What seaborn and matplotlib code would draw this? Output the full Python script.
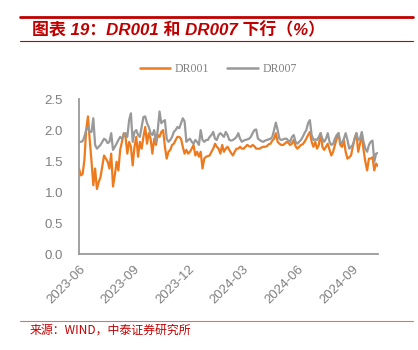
import matplotlib
matplotlib.use("Agg")
import matplotlib.pyplot as plt
import matplotlib.dates as mdates
import pandas as pd
import seaborn as sns

# Observation dates (every third calendar day)
dates = pd.date_range("2023-06-01", periods=168, freq="3D")

# DR001 overnight repo rate (%)
dr001 = [
    1.38, 1.27, 1.29, 1.51, 2.00, 2.22, 1.84, 1.49, 1.11, 1.38,
    1.05, 1.16, 1.24, 1.41, 1.59, 1.54, 1.49, 1.38, 1.62, 1.09,
    1.27, 1.49, 1.35, 1.68, 1.81, 1.95, 1.89, 1.62, 1.81, 1.73,
    1.43, 1.73, 1.89, 1.57, 1.81, 1.70, 1.89, 2.05, 1.78, 1.95,
    1.86, 1.62, 1.86, 1.76, 1.92, 1.89, 1.97, 2.00, 1.73, 1.54,
    1.65, 1.68, 1.76, 1.78, 1.84, 1.89, 1.89, 1.86, 1.73, 1.62,
    1.68, 1.62, 1.65, 1.70, 1.76, 1.59, 1.65, 1.57, 1.65, 1.38,
    1.54, 1.57, 1.58, 1.59, 1.65, 1.70, 1.78, 1.73, 1.70, 1.62,
    1.76, 1.65, 1.70, 1.73, 1.68, 1.63, 1.59, 1.65, 1.70, 1.70,
    1.73, 1.70, 1.70, 1.73, 1.76, 1.74, 1.73, 1.76, 1.74, 1.70,
    1.70, 1.70, 1.72, 1.73, 1.73, 1.74, 1.77, 1.78, 1.83, 1.86,
    1.95, 1.81, 1.78, 1.76, 1.76, 1.78, 1.81, 1.79, 1.76, 1.78,
    1.84, 1.74, 1.70, 1.73, 1.76, 1.77, 1.81, 1.86, 1.92, 1.97,
    1.81, 1.73, 1.81, 1.70, 1.76, 1.95, 1.73, 1.68, 1.73, 1.78,
    1.68, 1.59, 1.65, 1.76, 1.86, 1.95, 1.76, 1.73, 1.84, 1.65,
    1.54, 1.56, 1.59, 1.73, 1.86, 1.95, 1.65, 1.78, 1.92, 1.68,
    1.49, 1.35, 1.54, 1.54, 1.56, 1.35, 1.46, 1.42,
]

# DR007 seven-day repo rate (%)
dr007 = [
    1.81, 1.81, 1.82, 1.89, 2.00, 2.05, 1.97, 1.97, 2.19, 1.76,
    1.70, 1.73, 1.76, 1.81, 1.86, 1.84, 1.79, 1.81, 1.95, 1.68,
    1.73, 1.78, 1.84, 1.89, 1.86, 1.92, 1.95, 1.89, 2.16, 2.27,
    1.81, 1.97, 2.00, 1.92, 1.89, 2.05, 2.21, 2.22, 2.11, 2.05,
    1.95, 1.92, 2.00, 1.81, 2.00, 2.30, 2.11, 2.14, 2.16, 1.86,
    1.81, 1.84, 1.89, 1.97, 2.00, 2.05, 2.03, 2.11, 2.19, 2.14,
    1.81, 1.84, 1.86, 1.81, 1.78, 1.84, 1.81, 1.76, 2.00, 1.84,
    1.81, 1.84, 1.84, 1.89, 1.92, 1.97, 1.86, 1.84, 1.92, 1.95,
    1.92, 1.89, 1.97, 1.92, 1.84, 1.83, 1.84, 1.86, 1.89, 1.95,
    1.86, 1.81, 1.83, 1.84, 1.85, 1.86, 1.89, 1.95, 2.00, 2.01,
    1.86, 1.84, 1.82, 1.81, 1.83, 1.84, 1.85, 1.86, 1.89, 2.00,
    2.12, 2.00, 1.86, 1.84, 1.85, 1.86, 1.86, 1.83, 1.81, 1.89,
    1.92, 1.81, 1.78, 1.81, 1.84, 1.89, 1.95, 2.00, 2.11, 2.16,
    1.92, 1.84, 1.85, 1.84, 1.89, 1.95, 1.86, 1.81, 1.86, 1.95,
    1.81, 1.76, 1.78, 1.86, 1.92, 1.95, 1.81, 1.79, 1.86, 1.95,
    1.84, 1.70, 1.73, 1.76, 1.86, 1.95, 1.84, 1.86, 1.97, 1.81,
    1.70, 1.65, 1.76, 1.81, 1.83, 1.49, 1.62, 1.63,
]

x_ticks = ["2023-06-01", "2023-09-01", "2023-12-01",
           "2024-03-01", "2024-06-01", "2024-09-01"]

df = pd.DataFrame({"date": dates, "DR001": dr001, "DR007": dr007})
long = df.melt(id_vars="date", var_name="series", value_name="rate")

sns.set_style("white")
plt.rcParams["font.family"] = ["Liberation Sans", "Noto Sans CJK SC", "DejaVu Sans"]

red = "#C00000"
axis_grey = "#9A9A9A"
label_grey = "#7F7F7F"
orange = "#EE7A1E"
grey_line = "#999999"

fig = plt.figure(figsize=(4.18, 3.5), dpi=100)
ax = fig.add_axes([0.189, 0.274, 0.715, 0.443])

sns.lineplot(data=long, x="date", y="rate", hue="series",
             palette={"DR001": orange, "DR007": grey_line},
             linewidth=1.6, ax=ax, legend=False)

ax.set_xlim(dates[0], dates[-1])
ax.set_ylim(0, 2.5)
ax.set_yticks([0, 0.5, 1.0, 1.5, 2.0, 2.5])
ax.yaxis.set_major_formatter(matplotlib.ticker.FormatStrFormatter("%.1f"))
ax.set_xticks(pd.to_datetime(x_ticks))
ax.xaxis.set_major_formatter(mdates.DateFormatter("%Y-%m"))
for lab in ax.get_xticklabels():
    lab.set_rotation(45)
    lab.set_ha("right")
    lab.set_rotation_mode("anchor")

ax.set_xlabel("")
ax.set_ylabel("")
for side in ("top", "right"):
    ax.spines[side].set_visible(False)
for side in ("left", "bottom"):
    ax.spines[side].set_color(axis_grey)
    ax.spines[side].set_linewidth(1.3)
ax.tick_params(axis="both", which="major", direction="out",
               width=1.0, color=axis_grey, labelcolor=label_grey,
               labelsize=9.5)
ax.tick_params(axis="x", length=3.5, pad=3)
ax.tick_params(axis="y", length=2.5, pad=9)

# Legend drawn above the plot
leg_handles = [
    plt.Line2D([0], [0], color=orange, lw=1.8),
    plt.Line2D([0], [0], color=grey_line, lw=1.8),
]
fig.legend(leg_handles, ["DR001", "DR007"], loc="center",
           bbox_to_anchor=(0.522, 0.803), ncol=2, frameon=False,
           handlelength=2.6, handletextpad=0.4, columnspacing=1.5,
           prop={"family": "Liberation Serif", "size": 8.5},
           labelcolor="#808080")

# Header rules and title
fig.add_artist(plt.Line2D([0.048, 0.988], [0.951, 0.951], color=red, lw=2.0))
fig.add_artist(plt.Line2D([0.048, 0.988], [0.882, 0.882], color=red, lw=0.8))
fig.text(0.077, 0.915, "图表 19：DR001 和 DR007 下行（%）", color=red,
         fontsize=12.2, fontweight="bold", style="italic", va="center",
         family=["Liberation Sans", "Noto Sans CJK SC", "DejaVu Sans"])

# Footer rule and source note
fig.add_artist(plt.Line2D([0.048, 0.988], [0.083, 0.083], color="#E07070", lw=0.8))
fig.text(0.072, 0.058, "来源：WIND，中泰证券研究所", color=red,
         fontsize=8.6, va="center",
         family=["Noto Sans CJK SC", "DejaVu Sans"])

fig.savefig("out.png", dpi=100)
